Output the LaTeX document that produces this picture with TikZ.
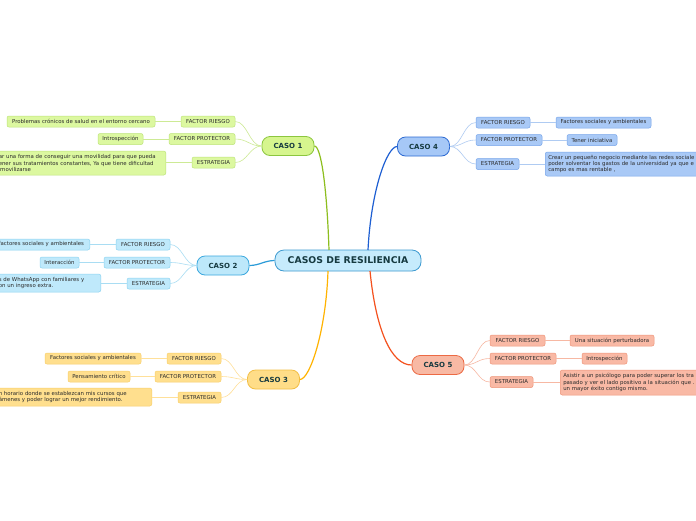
\documentclass[tikz,border=0pt]{standalone}
\usepackage{fontspec}
\setmainfont{DejaVu Sans}
\definecolor{txtcase}{HTML}{163A40}
\definecolor{txtsub}{HTML}{2B2B2B}
\definecolor{cfill}{HTML}{C6EBFC}\definecolor{cdraw}{HTML}{3E9AD0}
\definecolor{afill}{HTML}{D6F58E}\definecolor{adraw}{HTML}{8CC63F}\definecolor{aline}{HTML}{8DBE1E}\definecolor{asfill}{HTML}{DCF8A0}\definecolor{asdraw}{HTML}{BDE47A}\definecolor{athin}{HTML}{CDEA95}
\definecolor{bfill}{HTML}{BDE8FA}\definecolor{bdraw}{HTML}{3BA8DE}\definecolor{bline}{HTML}{2A9BD8}\definecolor{bsfill}{HTML}{BFE9FB}\definecolor{bsdraw}{HTML}{8CD3F1}\definecolor{bthin}{HTML}{A9DDF3}
\definecolor{dfill}{HTML}{FFDD88}\definecolor{ddraw}{HTML}{F2BE45}\definecolor{dline}{HTML}{FFB300}\definecolor{dsfill}{HTML}{FFDF8E}\definecolor{dsdraw}{HTML}{F7CF6B}\definecolor{dthin}{HTML}{FFE099}
\definecolor{efill}{HTML}{A6C8F7}\definecolor{edraw}{HTML}{2E6BD3}\definecolor{eline}{HTML}{1E5FD2}\definecolor{esfill}{HTML}{A9C9F6}\definecolor{esdraw}{HTML}{77A5EA}\definecolor{ethin}{HTML}{AFCBF2}
\definecolor{ffill}{HTML}{F8B9A4}\definecolor{fdraw}{HTML}{EC6A44}\definecolor{fline}{HTML}{F4511E}\definecolor{fsfill}{HTML}{F9B9A5}\definecolor{fsdraw}{HTML}{EE9478}\definecolor{fthin}{HTML}{F7B8A3}
\tikzset{
  rootbox/.style={draw=cdraw, fill=cfill, line width=0.8pt, rounded corners=9pt, inner sep=0pt,
    minimum width=146pt, minimum height=21pt, text=txtcase, font=\fontsize{9.3}{10}\selectfont\bfseries},
  casebox/.style={line width=0.8pt, rounded corners=8pt, inner sep=0pt,
    minimum width=52pt, minimum height=19pt, text=txtcase, font=\fontsize{7}{8}\selectfont\bfseries},
  subbox/.style={line width=0.5pt, rounded corners=2pt, inner sep=0pt,
    minimum height=11pt, text=txtsub, font=\fontsize{5.4}{6}\selectfont},
  leafbox/.style={line width=0.5pt, rounded corners=2pt, inner xsep=3pt, inner ysep=0pt,
    minimum height=11pt, text=txtsub, font=\fontsize{5.4}{6.4}\selectfont},
  mainline/.style={line width=1.2pt},
  thinline/.style={line width=0.6pt},
}
\begin{document}
\begin{tikzpicture}[x=1pt,y=-1pt]
\useasboundingbox (0,0) rectangle (696,520);
\clip (0,0) rectangle (696,520);
\fill[white] (0,0) rectangle (696,520);

% root
\node[rootbox] (root) at (348,260.5) {CASOS DE RESILIENCIA};
\coordinate (rtl) at (329,250);
\coordinate (rtr) at (368,250);
\coordinate (rbl) at (328,271);
\coordinate (rbr) at (370,271);

% ---------- CASO 1
\node[casebox, draw=adraw, fill=afill] (c1) at (288,146) {CASO 1};
\node[subbox, draw=asdraw, fill=asfill, minimum width=54pt] (r1) at (208,121.5) {FACTOR RIESGO};
\node[subbox, draw=asdraw, fill=asfill, minimum width=66pt] (p1) at (202,139) {FACTOR PROTECTOR};
\node[subbox, draw=asdraw, fill=asfill, minimum width=43pt] (e1) at (213.5,162.5) {ESTRATEGIA};
\node[leafbox, draw=asdraw, fill=asfill, minimum width=148pt] (lr1) at (81,121.5) {Problemas crónicos de salud en el entorno cercano};
\node[leafbox, draw=asdraw, fill=asfill, minimum width=45pt] (lp1) at (120.5,139) {Introspección};
\node[leafbox, draw=asdraw, fill=asfill, anchor=east, text width=164pt, align=left, minimum height=24pt] (le1) at (166,163)
  {ar una forma de conseguir una movilidad para que pueda\\ener sus tratamientos constantes, Ya que tiene dificultad\\\hspace*{1.5pt}movilizarse};

% ---------- CASO 2
\node[casebox, draw=bdraw, fill=bfill] (c2) at (223,265.5) {CASO 2};
\node[subbox, draw=bsdraw, fill=bsfill, minimum width=54pt] (r2) at (143,244.5) {FACTOR RIESGO};
\node[subbox, draw=bsdraw, fill=bsfill, minimum width=66pt] (p2) at (137,262.5) {FACTOR PROTECTOR};
\node[subbox, draw=bsdraw, fill=bsfill, minimum width=43pt] (e2) at (148.5,283.5) {ESTRATEGIA};
\node[leafbox, draw=bsdraw, fill=bsfill, anchor=east, text width=88pt, align=left] (lr2) at (90,244.5) {factores sociales y ambientales};
\node[leafbox, draw=bsdraw, fill=bsfill, minimum width=39pt] (lp2) at (59.5,262.5) {Interacción};
\node[leafbox, draw=bsdraw, fill=bsfill, anchor=east, text width=99pt, align=left, minimum height=18pt] (le2) at (101,283)
  {s de WhatsApp con familiares y\\on un ingreso extra.};

% ---------- CASO 3
\node[casebox, draw=ddraw, fill=dfill] (c3) at (273.5,379.5) {CASO 3};
\node[subbox, draw=dsdraw, fill=dsfill, minimum width=54pt] (r3) at (194,358.5) {FACTOR RIESGO};
\node[subbox, draw=dsdraw, fill=dsfill, minimum width=66pt] (p3) at (188,376.5) {FACTOR PROTECTOR};
\node[subbox, draw=dsdraw, fill=dsfill, minimum width=43pt] (e3) at (199.5,397.5) {ESTRATEGIA};
\node[leafbox, draw=dsdraw, fill=dsfill, minimum width=96pt] (lr3) at (93,358.5) {Factores sociales y ambientales};
\node[leafbox, draw=dsdraw, fill=dsfill, minimum width=62pt] (lp3) at (99,376.5) {Pensamiento crítico};
\node[leafbox, draw=dsdraw, fill=dsfill, anchor=east, text width=150pt, align=left, minimum height=18pt] (le3) at (152,397)
  {n horario donde se establezcan mis cursos que\\ámenes y poder lograr un mejor rendimiento.};

% ---------- CASO 4
\node[casebox, draw=edraw, fill=efill] (c4) at (423.5,146.5) {CASO 4};
\node[subbox, draw=esdraw, fill=esfill, minimum width=54pt] (r4) at (503,122.5) {FACTOR RIESGO};
\node[subbox, draw=esdraw, fill=esfill, minimum width=66pt] (p4) at (509,140) {FACTOR PROTECTOR};
\node[subbox, draw=esdraw, fill=esfill, minimum width=43pt] (e4) at (497.5,164) {ESTRATEGIA};
\node[leafbox, draw=esdraw, fill=esfill, minimum width=95pt] (lr4) at (603.5,122.5) {Factores sociales y ambientales};
\node[leafbox, draw=esdraw, fill=esfill, minimum width=50pt] (lp4) at (592,140) {Tener iniciativa};
\node[leafbox, draw=esdraw, fill=esfill, anchor=west, text width=170pt, align=left, minimum height=24pt] (le4) at (545,164)
  {Crear un pequeño negocio mediante las redes sociale\\poder solventar los gastos de la universidad ya que e\\campo es mas rentable ,};

% ---------- CASO 5
\node[casebox, draw=fdraw, fill=ffill] (c5) at (438,365) {CASO 5};
\node[subbox, draw=fsdraw, fill=fsfill, minimum width=55pt] (r5) at (517.5,340.5) {FACTOR RIESGO};
\node[subbox, draw=fsdraw, fill=fsfill, minimum width=66pt] (p5) at (523,358.5) {FACTOR PROTECTOR};
\node[subbox, draw=fsdraw, fill=fsfill, minimum width=43pt] (e5) at (511.5,382) {ESTRATEGIA};
\node[leafbox, draw=fsdraw, fill=fsfill, minimum width=84pt] (lr5) at (612,340.5) {Una situación perturbadora};
\node[leafbox, draw=fsdraw, fill=fsfill, minimum width=45pt] (lp5) at (604.5,358.5) {Introspección};
\node[leafbox, draw=fsdraw, fill=fsfill, anchor=west, text width=170pt, align=left, minimum height=25pt] (le5) at (560,382.5)
  {Asistir a un psicólogo para poder superar los tra\\pasado y ver el lado positivo a la situación que .\\un mayor éxito contigo mismo.};

% ---------- main connectors
\draw[mainline, aline] (c1.east) .. controls +(7,0) and +(-2,-60) .. (rtl);
\draw[mainline, eline] (c4.west) .. controls +(-10,0) and +(3,-60) .. (rtr);
\draw[mainline, dline] (rbl) .. controls +(-2,60) and +(10,0) .. (c3.east);
\draw[mainline, fline] (rbr) .. controls +(6,60) and +(-20,0) .. (c5.west);
\draw[mainline, bline] (c2.east) .. controls +(10,0) and +(-10,0) .. (root.west);

% ---------- sub connectors
\foreach \s/\c/\col in {r1/c1/athin,p1/c1/athin,e1/c1/athin,r2/c2/bthin,p2/c2/bthin,e2/c2/bthin,r3/c3/dthin,p3/c3/dthin,e3/c3/dthin}{
  \draw[thinline, \col] (\c.west) .. controls +(-12,0) and +(12,0) .. (\s.east);
}
\foreach \s/\c/\col in {r4/c4/ethin,p4/c4/ethin,e4/c4/ethin,r5/c5/fthin,p5/c5/fthin,e5/c5/fthin}{
  \draw[thinline, \col] (\c.east) .. controls +(12,0) and +(-12,0) .. (\s.west);
}
% leaf connectors
\draw[thinline, athin] (r1.west) -- (lr1.east);
\draw[thinline, athin] (p1.west) -- (lp1.east);
\draw[thinline, athin] (e1.west) -- (e1.west -| le1.east);
\draw[thinline, bthin] (r2.west) -- (lr2.east);
\draw[thinline, bthin] (p2.west) -- (lp2.east);
\draw[thinline, bthin] (e2.west) -- (e2.west -| le2.east);
\draw[thinline, dthin] (r3.west) -- (lr3.east);
\draw[thinline, dthin] (p3.west) -- (lp3.east);
\draw[thinline, dthin] (e3.west) -- (e3.west -| le3.east);
\draw[thinline, ethin] (r4.east) -- (lr4.west);
\draw[thinline, ethin] (p4.east) -- (lp4.west);
\draw[thinline, ethin] (e4.east) -- (e4.east -| le4.west);
\draw[thinline, fthin] (r5.east) -- (lr5.west);
\draw[thinline, fthin] (p5.east) -- (lp5.west);
\draw[thinline, fthin] (e5.east) -- (e5.east -| le5.west);
\end{tikzpicture}
\end{document}
